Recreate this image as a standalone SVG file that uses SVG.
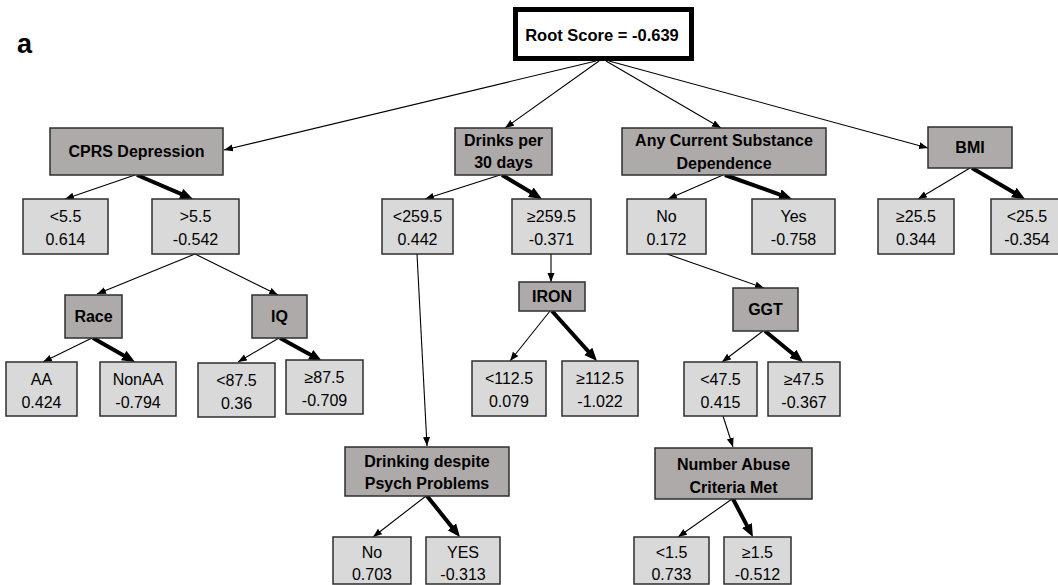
<svg xmlns="http://www.w3.org/2000/svg" width="1058" height="585" viewBox="0 0 1058 585">
<style>
.bg{fill:#ffffff}
.inner{fill:#aeaaaa;stroke:#2e2e2e;stroke-width:1.5}
.leaf{fill:#d9d9d9;stroke:#2e2e2e;stroke-width:1.5}
.bt{font-family:"Liberation Sans",Arial,sans-serif;font-weight:bold;font-size:16px;fill:#000;text-anchor:middle}
.lt{font-family:"Liberation Sans",Arial,sans-serif;font-size:16px;fill:#000;text-anchor:middle}
.thin{stroke:#000;stroke-width:1.1;fill:none;marker-end:url(#ah)}
.thick{stroke:#000;stroke-width:4;fill:none;marker-end:url(#ahb)}
</style>
<defs>
<marker id="ah" markerUnits="userSpaceOnUse" markerWidth="10" markerHeight="8" refX="9" refY="3.5" orient="auto">
<path d="M0,0 L9,3.5 L0,7 z" fill="#000"/>
</marker>
<marker id="ahb" markerUnits="userSpaceOnUse" markerWidth="14" markerHeight="12" refX="3" refY="5.5" orient="auto">
<path d="M0,0 L13,5.5 L0,11 z" fill="#000"/>
</marker>
</defs>
<rect class="bg" x="0" y="0" width="1058" height="585"/>
<text x="17" y="53" style="font-family:'Liberation Sans',Arial,sans-serif;font-weight:bold;font-size:27px" fill="#000">a</text>

<g id="connectors">
<line class="thin" x1="596" y1="61" x2="224" y2="150"/>
<line class="thin" x1="599" y1="61" x2="505" y2="128"/>
<line class="thin" x1="606" y1="61" x2="721" y2="128"/>
<line class="thin" x1="609" y1="61" x2="928" y2="148"/>
<line class="thin" x1="135" y1="175" x2="65" y2="199"/>
<line class="thick" x1="137" y1="175" x2="183.8" y2="195.1"/>
<line class="thin" x1="195" y1="254" x2="97" y2="294"/>
<line class="thin" x1="195" y1="254" x2="278" y2="295"/>
<line class="thin" x1="92" y1="338" x2="43" y2="362"/>
<line class="thick" x1="93" y1="338" x2="126.3" y2="357"/>
<line class="thin" x1="279" y1="338" x2="238" y2="362"/>
<line class="thick" x1="280" y1="338" x2="313.2" y2="356.2"/>
<line class="thin" x1="500" y1="175" x2="425" y2="199"/>
<line class="thick" x1="502" y1="175" x2="533.4" y2="193.8"/>
<line class="thin" x1="417" y1="254" x2="427" y2="446"/>
<line class="thin" x1="551" y1="254" x2="551" y2="282"/>
<line class="thin" x1="550" y1="311" x2="510" y2="361"/>
<line class="thick" x1="552" y1="311" x2="590.3" y2="353.6"/>
<line class="thin" x1="426" y1="496" x2="373" y2="537"/>
<line class="thick" x1="427" y1="496" x2="453.7" y2="529.2"/>
<line class="thin" x1="723" y1="175" x2="668" y2="199"/>
<line class="thick" x1="725" y1="175" x2="782.6" y2="195.6"/>
<line class="thin" x1="667" y1="254" x2="764" y2="288"/>
<line class="thin" x1="763" y1="331" x2="722" y2="362"/>
<line class="thick" x1="765" y1="331" x2="795.2" y2="355.7"/>
<line class="thin" x1="723" y1="416" x2="733" y2="447"/>
<line class="thin" x1="732" y1="499" x2="678" y2="537"/>
<line class="thick" x1="733" y1="499" x2="748.3" y2="528.1"/>
<line class="thin" x1="970" y1="168" x2="918" y2="199"/>
<line class="thick" x1="972" y1="168" x2="1016.4" y2="194"/>
</g>

<g id="root">
<rect x="515.5" y="9.5" width="176" height="49" fill="#fff" stroke="#000" stroke-width="5"/>
<text class="bt" x="602" y="41" style="font-size:16.5px">Root Score = -0.639</text>
</g>

<g id="cprs"><rect class="inner" x="50" y="128" width="173" height="47"/><text class="bt" x="136.5" y="157">CPRS Depression</text></g>
<g id="drinks"><rect class="inner" x="455" y="128" width="97" height="47"/><text class="bt" x="503.5" y="146">Drinks per</text><text class="bt" x="503.5" y="168">30 days</text></g>
<g id="anycur"><rect class="inner" x="622" y="128" width="204" height="47"/><text class="bt" x="724" y="146">Any Current Substance</text><text class="bt" x="724" y="169">Dependence</text></g>
<g id="bmi"><rect class="inner" x="928" y="127" width="84" height="41"/><text class="bt" x="970" y="153">BMI</text></g>
<g id="race"><rect class="inner" x="65" y="295" width="57" height="43"/><text class="bt" x="93.5" y="322">Race</text></g>
<g id="iq"><rect class="inner" x="252" y="295" width="55" height="43"/><text class="bt" x="279.5" y="322">IQ</text></g>
<g id="iron"><rect class="inner" x="519" y="282" width="66" height="29"/><text class="bt" x="552" y="302">IRON</text></g>
<g id="ggt"><rect class="inner" x="733" y="288" width="65" height="43"/><text class="bt" x="765.5" y="315">GGT</text></g>
<g id="drinking"><rect class="inner" x="345" y="447" width="164" height="49"/><text class="bt" x="427" y="467">Drinking despite</text><text class="bt" x="427" y="489">Psych Problems</text></g>
<g id="numabuse"><rect class="inner" x="655" y="448" width="157" height="51"/><text class="bt" x="733.5" y="470">Number Abuse</text><text class="bt" x="733.5" y="493">Criteria Met</text></g>

<g id="cprs-lo"><rect class="leaf" x="23" y="199" width="85" height="55"/><text class="lt" x="65.5" y="222">&lt;5.5</text><text class="lt" x="65.5" y="245">0.614</text></g>
<g id="cprs-hi"><rect class="leaf" x="152" y="199" width="87" height="55"/><text class="lt" x="195.5" y="222">&gt;5.5</text><text class="lt" x="195.5" y="245">-0.542</text></g>
<g id="drinks-lo"><rect class="leaf" x="382" y="199" width="71" height="55"/><text class="lt" x="417.5" y="222">&lt;259.5</text><text class="lt" x="417.5" y="245">0.442</text></g>
<g id="drinks-hi"><rect class="leaf" x="512" y="199" width="79" height="55"/><text class="lt" x="551.5" y="222">≥259.5</text><text class="lt" x="551.5" y="245">-0.371</text></g>
<g id="anycur-no"><rect class="leaf" x="627" y="199" width="79" height="55"/><text class="lt" x="666.5" y="222">No</text><text class="lt" x="666.5" y="245">0.172</text></g>
<g id="anycur-yes"><rect class="leaf" x="752" y="199" width="83" height="55"/><text class="lt" x="793.5" y="222">Yes</text><text class="lt" x="793.5" y="245">-0.758</text></g>
<g id="bmi-hi"><rect class="leaf" x="878" y="199" width="76" height="55"/><text class="lt" x="916" y="222">≥25.5</text><text class="lt" x="916" y="245">0.344</text></g>
<g id="bmi-lo"><rect class="leaf" x="991" y="199" width="70" height="55"/><text class="lt" x="1027" y="222">&lt;25.5</text><text class="lt" x="1027" y="245">-0.354</text></g>
<g id="race-aa"><rect class="leaf" x="6" y="362" width="71" height="54"/><text class="lt" x="41.5" y="385">AA</text><text class="lt" x="41.5" y="408">0.424</text></g>
<g id="race-nonaa"><rect class="leaf" x="100" y="362" width="76" height="54"/><text class="lt" x="138" y="385">NonAA</text><text class="lt" x="138" y="408">-0.794</text></g>
<g id="iq-lo"><rect class="leaf" x="198" y="363" width="77" height="54"/><text class="lt" x="236.5" y="386">&lt;87.5</text><text class="lt" x="236.5" y="409">0.36</text></g>
<g id="iq-hi"><rect class="leaf" x="286" y="360" width="77" height="54"/><text class="lt" x="324.5" y="383">≥87.5</text><text class="lt" x="324.5" y="406">-0.709</text></g>
<g id="iron-lo"><rect class="leaf" x="472" y="361" width="74" height="55"/><text class="lt" x="509" y="384">&lt;112.5</text><text class="lt" x="509" y="407">0.079</text></g>
<g id="iron-hi"><rect class="leaf" x="562" y="361" width="76" height="55"/><text class="lt" x="600" y="384">≥112.5</text><text class="lt" x="600" y="407">-1.022</text></g>
<g id="ggt-lo"><rect class="leaf" x="684" y="362" width="73" height="54"/><text class="lt" x="720.5" y="385">&lt;47.5</text><text class="lt" x="720.5" y="408">0.415</text></g>
<g id="ggt-hi"><rect class="leaf" x="768" y="362" width="72" height="54"/><text class="lt" x="804" y="385">≥47.5</text><text class="lt" x="804" y="408">-0.367</text></g>
<g id="drinking-no"><rect class="leaf" x="333" y="537" width="78" height="47"/><text class="lt" x="372" y="558">No</text><text class="lt" x="372" y="580">0.703</text></g>
<g id="drinking-yes"><rect class="leaf" x="426" y="537" width="74" height="47"/><text class="lt" x="463" y="558">YES</text><text class="lt" x="463" y="580">-0.313</text></g>
<g id="numabuse-lo"><rect class="leaf" x="634" y="537" width="75" height="47"/><text class="lt" x="671.5" y="558">&lt;1.5</text><text class="lt" x="671.5" y="580">0.733</text></g>
<g id="numabuse-hi"><rect class="leaf" x="724" y="537" width="67" height="47"/><text class="lt" x="757.5" y="558">≥1.5</text><text class="lt" x="757.5" y="580">-0.512</text></g>
</svg>
